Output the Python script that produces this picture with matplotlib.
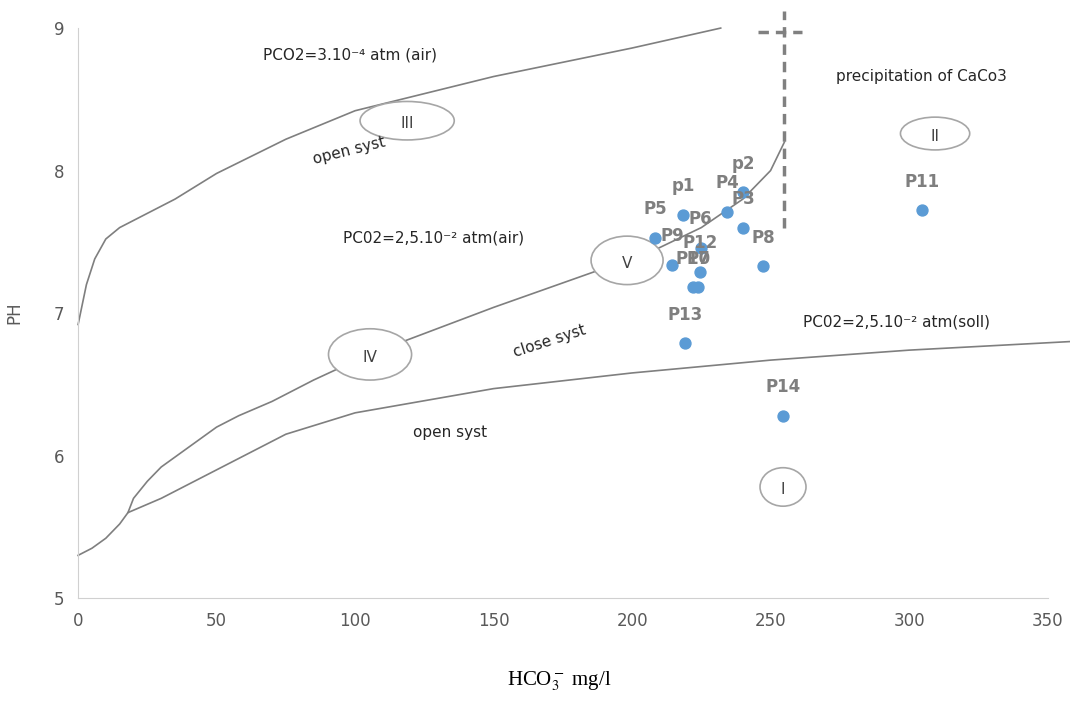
import matplotlib
matplotlib.use('Agg')
import matplotlib.pyplot as plt
from matplotlib.patches import Ellipse

# sample points (HCO3 mg/l, pH)
names = ['p1', 'p2', 'P3', 'P4', 'P5', 'P6', 'P7', 'P8', 'P9', 'P10', 'P11', 'P12', 'P13', 'P14']
hco3 = [218.4, 240.1, 240.1, 234.3, 208.3, 224.8, 223.8, 247.3, 214.4, 222.0, 304.7, 224.5, 219.1, 254.5]
ph = [7.69, 7.85, 7.60, 7.71, 7.53, 7.46, 7.18, 7.33, 7.34, 7.18, 7.72, 7.29, 6.79, 6.28]

# PCO2 = 3.10-4 atm (air), open system
air_x = [0, 3, 6, 10, 15, 22, 35, 50, 75, 100, 150, 200, 232]
air_y = [6.92, 7.2, 7.38, 7.52, 7.6, 7.67, 7.8, 7.98, 8.22, 8.42, 8.66, 8.86, 9.0]

# PCO2 = 2,5.10-2 atm, closed system
close_x = [0, 5, 10, 15, 18, 20, 25, 30, 40, 50, 58, 70, 85, 105, 150, 198, 210, 225, 240, 250, 255]
close_y = [5.3, 5.35, 5.42, 5.52, 5.6, 5.7, 5.82, 5.92, 6.06, 6.2, 6.28, 6.38, 6.53, 6.71, 7.04, 7.37, 7.46, 7.6, 7.8, 8.0, 8.2]

# PCO2 = 2,5.10-2 atm (soil), open system
soil_x = [18, 30, 45, 60, 75, 100, 150, 200, 250, 300, 358]
soil_y = [5.6, 5.7, 5.85, 6.0, 6.15, 6.3, 6.47, 6.58, 6.67, 6.74, 6.8]

# zone labels: name, x, y, width, height
zones = [('III', 118.8, 8.35, 34, 0.27),
         ('II', 309.4, 8.26, 25, 0.23),
         ('V', 198.2, 7.37, 26, 0.34),
         ('IV', 105.4, 6.71, 30, 0.36),
         ('I', 254.5, 5.78, 16.6, 0.27)]

fig = plt.figure(figsize=(10.7, 7.02), dpi=100)
ax = fig.add_axes([0.073, 0.148, 0.906, 0.812])

line_col = '#7f7f7f'
ax.plot(air_x, air_y, color=line_col, lw=1.2, clip_on=False)
ax.plot(close_x, close_y, color=line_col, lw=1.2, clip_on=False)
ax.plot(soil_x, soil_y, color=line_col, lw=1.2, clip_on=False)

# CaCO3 precipitation limit
ax.plot([255, 255], [7.6, 9.12], color='#808080', lw=2.5, ls=(0, (3, 2)), clip_on=False)
ax.plot([245.5, 261.5], [8.97, 8.97], color='#808080', lw=2.5, ls=(0, (3, 2)), clip_on=False)

for z, zx, zy, w, h in zones:
    ax.add_patch(Ellipse((zx, zy), w, h, facecolor='white', edgecolor='#a6a6a6', lw=1.2, zorder=3))
    ax.text(zx, zy - 0.02, z, ha='center', va='center', fontsize=11, color='#404040', zorder=4)

ax.scatter(hco3, ph, s=62, color='#5b9bd5', zorder=5)
for n, xv, yv in zip(names, hco3, ph):
    ax.annotate(n, (xv, yv), xytext=(0, 14), textcoords='offset points', ha='center', va='bottom',
                fontsize=12, fontweight='bold', color='#7f7f7f', zorder=6)

txt = dict(fontsize=11, color='#262626')
ax.text(66.8, 8.81, 'PCO2=3.10\u207b\u2074 atm (air)', ha='left', va='center', **txt)
ax.text(98, 8.14, 'open syst', ha='center', va='center', rotation=14, **txt)
ax.text(95.7, 7.53, 'PC02=2,5.10\u207b\u00b2 atm(air)', ha='left', va='center', **txt)
ax.text(170.4, 6.80, 'close syst', ha='center', va='center', rotation=18, **txt)
ax.text(261.7, 6.94, 'PC02=2,5.10\u207b\u00b2 atm(soll)', ha='left', va='center', **txt)
ax.text(134.3, 6.16, 'open syst', ha='center', va='center', **txt)
ax.text(273.6, 8.66, 'precipitation of CaCo3', ha='left', va='center', **txt)

ax.set_xlim(0, 350)
ax.set_ylim(5, 9)
ax.set_xticks(range(0, 351, 50))
ax.set_yticks([5, 6, 7, 8, 9])
ax.tick_params(length=0, labelsize=12, labelcolor='#595959', pad=10)
for s in ['top', 'right']:
    ax.spines[s].set_visible(False)
for s in ['left', 'bottom']:
    ax.spines[s].set_color('#d0d0d0')
ax.set_ylabel('PH', fontsize=12, color='#595959', labelpad=22)
plt.rcParams['mathtext.fontset'] = 'stix'
fig.text(0.523, 0.03, 'HCO$_3^-$ mg/l', ha='center', va='center', fontsize=15,
         family='Liberation Serif', color='black')

fig.savefig('out.png', dpi=100)
